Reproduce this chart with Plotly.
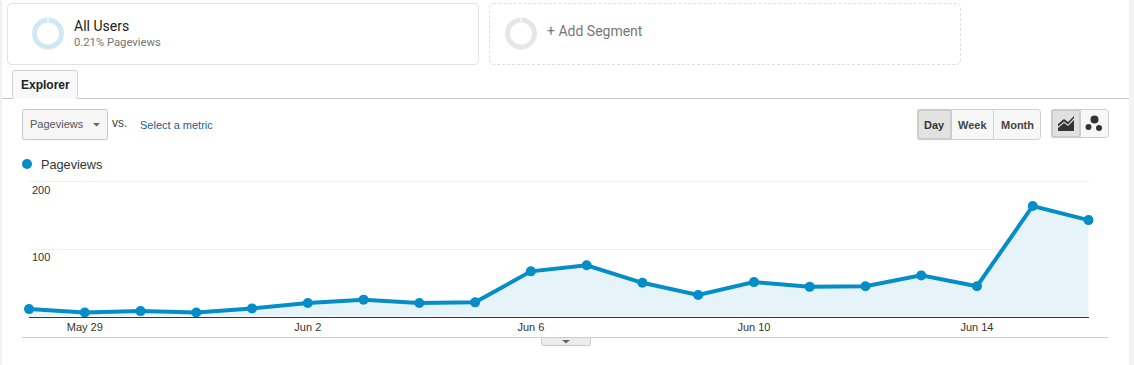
import plotly.graph_objects as go

dates = ["2018-05-28","2018-05-29","2018-05-30","2018-05-31","2018-06-01","2018-06-02","2018-06-03",
         "2018-06-04","2018-06-05","2018-06-06","2018-06-07","2018-06-08","2018-06-09","2018-06-10",
         "2018-06-11","2018-06-12","2018-06-13","2018-06-14","2018-06-15","2018-06-16"]
pageviews = [11,6,8,6,12,20,25,20,21,67,76,50,32,51,44,45,61,45,164,143]
x_tick_vals = ["2018-05-29","2018-06-02","2018-06-06","2018-06-10","2018-06-14"]
x_tick_text = ["May 29","Jun 2","Jun 6","Jun 10","Jun 14"]
y_ticks = [100,200]

W, H = 1134, 365
FONT = "Liberation Sans, Arial, sans-serif"
BLUE = "#058dc7"

def px(x): return x / W
def py(y): return 1 - y / H

shapes, notes = [], []

def rrect(x0, y0, x1, y1, r=3, fill="white", line="#dcdcdc", dash="solid", width=1, layer="below"):
    X0, X1, Y0, Y1 = px(x0), px(x1), py(y0), py(y1)
    rx, ry = r / W, r / H
    path = (f"M {X0+rx} {Y0} L {X1-rx} {Y0} Q {X1} {Y0} {X1} {Y0-ry} L {X1} {Y1+ry} "
            f"Q {X1} {Y1} {X1-rx} {Y1} L {X0+rx} {Y1} Q {X0} {Y1} {X0} {Y1+ry} "
            f"L {X0} {Y0-ry} Q {X0} {Y0} {X0+rx} {Y0} Z")
    shapes.append(dict(type="path", path=path, xref="paper", yref="paper", fillcolor=fill,
                       line=dict(color=line, width=width, dash=dash), layer=layer))

def rect(x0, y0, x1, y1, fill, layer="below"):
    shapes.append(dict(type="rect", xref="paper", yref="paper", x0=px(x0), x1=px(x1), y0=py(y1), y1=py(y0),
                       fillcolor=fill, line=dict(width=0), layer=layer))

def hline(x0, x1, y, color, width=1, layer="below"):
    shapes.append(dict(type="line", xref="paper", yref="paper", x0=px(x0), x1=px(x1), y0=py(y), y1=py(y),
                       line=dict(color=color, width=width), layer=layer))

def vline(x, y0, y1, color, width=1):
    shapes.append(dict(type="line", xref="paper", yref="paper", x0=px(x), x1=px(x), y0=py(y0), y1=py(y1),
                       line=dict(color=color, width=width), layer="below"))

def circle(cx, cy, r, fill="rgba(0,0,0,0)", line=None, width=0):
    shapes.append(dict(type="circle", xref="paper", yref="paper", x0=px(cx-r), x1=px(cx+r), y0=py(cy+r), y1=py(cy-r),
                       fillcolor=fill, line=dict(color=line or fill, width=width), layer="above"))

def poly(points, fill):
    d = "M " + " L ".join(f"{px(a)} {py(b)}" for a, b in points) + " Z"
    shapes.append(dict(type="path", path=d, xref="paper", yref="paper", fillcolor=fill, line=dict(width=0), layer="above"))

def text(x, y, s, size=11, color="#333", anchor="left", bold=False, family=FONT):
    shift = -2 if anchor == "left" else 0
    notes.append(dict(xref="paper", yref="paper", x=px(x), y=py(y), text=f"<b>{s}</b>" if bold else s,
                      showarrow=False, xanchor=anchor, yanchor="middle", xshift=shift,
                      font=dict(size=size, color=color, family=family)))

# page frame
rect(0, 0, 2, H, "#f1f1f1")
rect(1129, 0, W, H, "#f3f3f3")

# segment cards
rrect(7.5, 3.5, 478.5, 64.5, r=4, line="#e2e2e2")
circle(48, 33.5, 13.5, line="#cfe8f5", width=5)
rect(47.5, 17, 48.5, 23, "#ffffff", layer="above")
text(74, 26, "All Users", 14, "#222", family="Roboto, sans-serif")
text(74, 43, "0.21% Pageviews", 11.25, "#757575", family="Roboto, sans-serif")
rrect(489.5, 3.5, 960.5, 64.5, r=4, line="#dedede", dash="3px,2px")
circle(521, 33.5, 13.5, line="#e6e6e6", width=5)
rect(520.5, 17, 521.5, 23, "#ffffff", layer="above")
text(547, 31, "+ Add Segment", 14, "#777", family="Roboto, sans-serif")

# tab strip
hline(2, 1129, 98.5, "#c8c8c8")
rrect(12.5, 70.5, 77.5, 98.5, r=2, fill="#f9f9f9", line="#d0d0d0")
hline(13, 77, 98.5, "#f9f9f9", 1)
text(21, 85, "Explorer", 12, "#222", bold=True)

# metric selector
rrect(22.5, 109.5, 107.5, 139.5, r=2, fill="#f6f6f6", line="#c6c6c6")
text(30, 124, "Pageviews", 11, "#555")
poly([(93, 123), (100, 123), (96.5, 126.5)], "#666")
text(112, 122.5, "vs.", 12, "#444")
text(140, 124.5, "Select a metric", 11, "#1a5f94")

# day/week/month
rrect(917.5, 109.5, 1040.5, 139.5, r=3, fill="#f7f7f7", line="#cfcfcf")
rrect(918, 110, 951, 139, r=2, fill="#e2e2e2", line="#cccccc", width=2)
vline(993.5, 110, 139, "#d4d4d4")
text(934.5, 124.5, "Day", 11, "#333", "center", True)
text(972.5, 124.5, "Week", 11, "#444", "center", True)
text(1017, 124.5, "Month", 11, "#444", "center", True)

# chart type buttons
rrect(1051.5, 109.5, 1108.5, 137.5, r=3, fill="#f7f7f7", line="#cfcfcf")
rrect(1052, 110, 1080, 137, r=2, fill="#e0e0e0", line="#cccccc", width=2)
poly([(1058, 124), (1064, 119), (1068, 122), (1074, 116), (1074, 118), (1068, 124.5), (1064, 121.5), (1058, 126.5)], "#333")
poly([(1058, 128), (1064, 123), (1068, 126), (1074, 120), (1074, 131), (1058, 131)], "#333")
circle(1094.5, 119.5, 4, "#333")
circle(1088.5, 127, 3, "#333")
circle(1099, 128, 3, "#333")

# legend
circle(27, 164, 5, BLUE)
text(41, 165, "Pageviews", 12.7, "#333")

# y tick labels sit just below their grid lines
for v in y_ticks:
    notes.append(dict(xref="paper", yref="y", x=px(33), y=v, text=str(v), showarrow=False, xanchor="left",
                      xshift=-3, yanchor="top", yshift=0, font=dict(size=11, color="#333", family=FONT)))

# footer
hline(22, 1108, 337.5, "#cfcfcf")
rrect(541.5, 337.5, 590.5, 345.5, r=1, fill="#ececec", line="#cccccc")
poly([(562, 340), (570, 340), (566, 343.5)], "#666")

fig = go.Figure(go.Scatter(
    x=dates, y=pageviews, mode="lines+markers", name="Pageviews", cliponaxis=False,
    line=dict(color=BLUE, width=4), marker=dict(color=BLUE, size=10),
    fill="tozeroy", fillcolor="#e6f4fa"))

fig.update_layout(
    width=W, height=H, margin=dict(l=0, r=0, t=0, b=0), paper_bgcolor="white", plot_bgcolor="rgba(0,0,0,0)",
    showlegend=False, shapes=shapes, annotations=notes, font=dict(family=FONT),
    xaxis=dict(domain=[px(29), px(1088.5)], range=["2018-05-28", "2018-06-16"], type="date",
               tickvals=x_tick_vals, ticktext=x_tick_text, ticks="", showgrid=False, zeroline=False,
               showline=True, linecolor="#333", linewidth=1,
               tickfont=dict(size=11, color="#333", family=FONT)),
    yaxis=dict(domain=[py(316.5), py(180.0)], range=[0, 202.5], tickvals=y_ticks, showticklabels=False,
               showgrid=True, gridcolor="#eeeeee", gridwidth=1, zeroline=False, ticks=""),
)
fig.write_html("out.html", config=dict(displayModeBar=False),
               post_script="document.body.style.margin='0';document.body.style.overflow='hidden';")
